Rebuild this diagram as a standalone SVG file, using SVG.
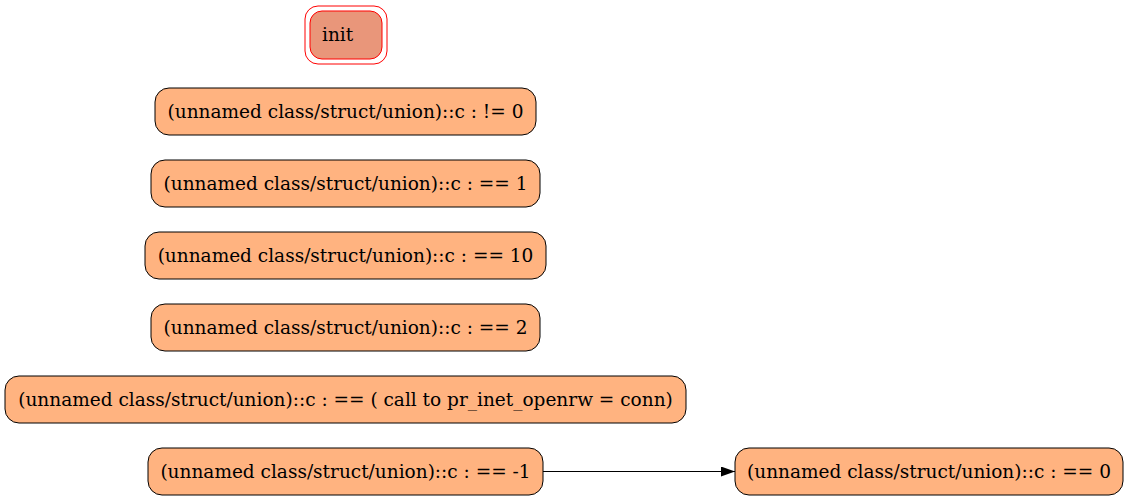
<svg xmlns="http://www.w3.org/2000/svg" width="1129" height="501" viewBox="0 0 1129 501">
<style>
  .n rect { fill: #ffb380; stroke: #000; stroke-width: 1; }
  text { font-family: "DejaVu Serif", "Liberation Serif", serif; font-size: 18.5px; fill: #000; }
  .n text { text-anchor: middle; }
  .e { stroke: #000; stroke-width: 1; fill: none; }
</style>
<defs>
  <marker id="arr" markerWidth="14" markerHeight="10" refX="14" refY="5" orient="auto" markerUnits="userSpaceOnUse">
    <polygon points="0,0 14,5 0,10" fill="#000"/>
  </marker>
</defs>
<rect width="1129" height="501" fill="#fff"/>
<g id="init">
  <rect x="305" y="6" width="82" height="58" rx="13" fill="none" stroke="#ff0000"/>
  <rect x="310" y="11" width="72" height="48" rx="12" fill="#e9967a" stroke="#ff0000"/>
  <text x="322" y="41">init</text>
</g>
<g id="n1" class="n">
  <rect x="155" y="88" width="381" height="47" rx="14"/>
  <text x="345.5" y="118">(unnamed class/struct/union)::c : != 0</text>
</g>
<g id="n2" class="n">
  <rect x="151" y="160" width="389" height="47" rx="14"/>
  <text x="345.5" y="190">(unnamed class/struct/union)::c : == 1</text>
</g>
<g id="n3" class="n">
  <rect x="145" y="232" width="401" height="47" rx="14"/>
  <text x="345.5" y="262">(unnamed class/struct/union)::c : == 10</text>
</g>
<g id="n4" class="n">
  <rect x="151" y="304" width="389" height="47" rx="14"/>
  <text x="345.5" y="334">(unnamed class/struct/union)::c : == 2</text>
</g>
<g id="n5" class="n">
  <rect x="5" y="376" width="681" height="47" rx="14"/>
  <text x="345.5" y="406">(unnamed class/struct/union)::c : == ( call to pr_inet_openrw = conn)</text>
</g>
<g id="n6" class="n">
  <rect x="148" y="448" width="395" height="47" rx="14"/>
  <text x="345.5" y="478">(unnamed class/struct/union)::c : == -1</text>
</g>
<g id="n7" class="n">
  <rect x="735" y="448" width="388" height="47" rx="14"/>
  <text x="929" y="478">(unnamed class/struct/union)::c : == 0</text>
</g>
<g id="edges">
  <line class="e" x1="543" y1="471.5" x2="735" y2="471.5" marker-end="url(#arr)"/>
</g>
</svg>
